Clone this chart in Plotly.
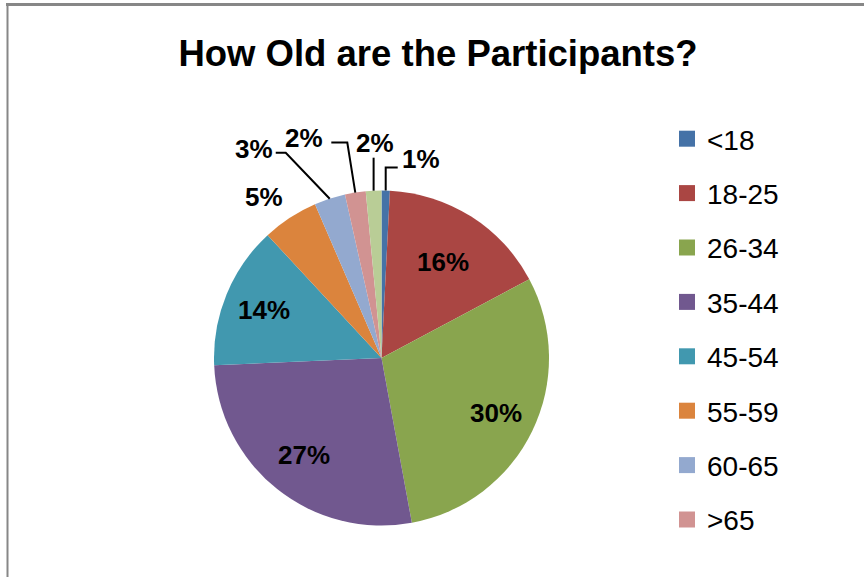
import math
import plotly.graph_objects as go

categories = ["<18", "18-25", "26-34", "35-44", "45-54", "55-59", "60-65", ">65", "No answer"]
values = [0.8, 16.4, 29.9, 27.2, 13.8, 5.4, 3.0, 2.0, 1.5]
colors = ["#4572A7", "#AA4643", "#89A54E", "#71588F", "#4198AF",
          "#DB843D", "#93A9CF", "#D19392", "#B9CD96"]
legend_categories = categories[:8]

# label placement style per slice
#  inside : radius fraction
#  outside: (label offset, leader elbow offset, leader end offset) in pixels from slice edge
label_style = [
    ("outside", ((35, -32), (0, -23), (12, -23))),
    ("inside", 0.68),
    ("inside", 0.76),
    ("inside", 0.74),
    ("inside", 0.76),
    ("outside", ((-26, -21), None, None)),
    ("outside", ((-76, -50), (-44, -46), (-54, -46))),
    ("outside", ((-51, -55), (-8, -50), (-24, -50))),
    ("outside", ((1, -48), (0, -33), (0, -33))),
]

W, H = 864, 577
CX, CY, R = 381.5, 358.0, 167.5  # pie centre / radius in pixels


def to_paper(px, py):
    return px / W, 1 - py / H


fig = go.Figure()

fig.add_trace(go.Pie(
    labels=categories,
    values=values,
    sort=False,
    direction="clockwise",
    rotation=0,
    marker=dict(colors=colors, line=dict(width=0)),
    textinfo="none",
    showlegend=False,
    domain=dict(x=[(CX - R) / W, (CX + R) / W], y=[1 - (CY + R) / H, 1 - (CY - R) / H]),
    hoverinfo="label+percent",
))

for i, cat in enumerate(legend_categories):
    fig.add_trace(go.Scatter(
        x=[None], y=[None], mode="markers", name=cat,
        marker=dict(symbol="square", size=17, color=colors[i]),
        legendgroup=cat, showlegend=True,
    ))

# data labels derived from the slice values / angles
total = sum(values)
annotations = []
shapes = [
    dict(type="line", xref="paper", yref="paper",
         x0=6 / W, x1=1, y0=1 - 4.5 / H, y1=1 - 4.5 / H,
         line=dict(color="#878787", width=3)),
    dict(type="line", xref="paper", yref="paper",
         x0=7.5 / W, x1=7.5 / W, y0=0, y1=1 - 3 / H,
         line=dict(color="#878787", width=2)),
]
cum = 0.0
lab_font = dict(family="Liberation Sans", size=26, color="black", weight="bold")
for v, (mode, p) in zip(values, label_style):
    mid = (cum + v / 2) / total * 2 * math.pi
    cum += v
    txt = f"{v / total:.0%}"
    if mode == "inside":
        x, y = to_paper(CX + p * R * math.sin(mid), CY - p * R * math.cos(mid))
        annotations.append(dict(x=x, y=y, xref="paper", yref="paper",
                                xanchor="center", yanchor="middle",
                                text=txt, showarrow=False, font=lab_font))
    else:
        ex = CX + R * math.sin(mid)
        ey = CY - R * math.cos(mid)
        (lx, ly), elbow, end = p
        x, y = to_paper(ex, ey)
        annotations.append(dict(x=x, y=y, xref="paper", yref="paper",
                                xanchor="center", yanchor="middle",
                                text=txt, showarrow=False, font=lab_font,
                                xshift=lx, yshift=-ly))
        if elbow is not None:
            pts = [to_paper(ex, ey),
                   to_paper(ex + elbow[0], ey + elbow[1]),
                   to_paper(ex + end[0], ey + end[1])]
            path = "M {:.5f} {:.5f} L {:.5f} {:.5f} L {:.5f} {:.5f}".format(
                *pts[0], *pts[1], *pts[2])
            shapes.append(dict(type="path", xref="paper", yref="paper", path=path,
                               line=dict(color="black", width=2)))

fig.update_layout(
    width=W, height=H,
    margin=dict(l=0, r=0, t=0, b=0),
    paper_bgcolor="white",
    plot_bgcolor="white",
    xaxis=dict(visible=False),
    yaxis=dict(visible=False),
    title=dict(
        text="<b>How Old are the Participants?</b>",
        x=438 / W, xanchor="center",
        y=1 - 53 / H, yanchor="middle",
        font=dict(family="Liberation Sans", size=36.5, color="black"),
    ),
    legend=dict(
        x=667 / W, xanchor="left",
        y=1 - 114 / H, yanchor="top",
        font=dict(family="Liberation Sans", size=28, color="black"),
        tracegroupgap=15,
        bgcolor="rgba(0,0,0,0)",
    ),
    annotations=annotations,
    shapes=shapes,
)

fig.write_html("out.html",
               config={"displayModeBar": False},
               post_script="document.body.style.margin='0';document.body.style.overflow='hidden';")
